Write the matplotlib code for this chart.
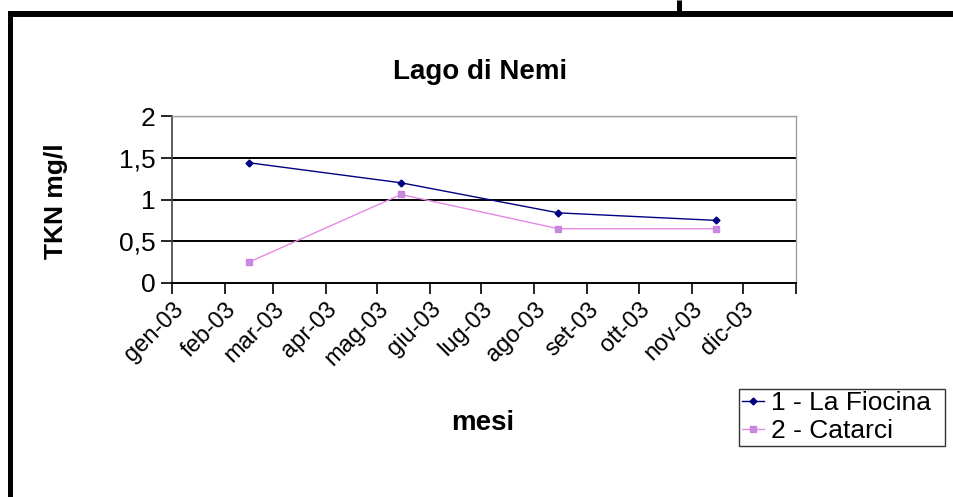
import matplotlib
matplotlib.use("Agg")
import matplotlib.pyplot as plt
import matplotlib.transforms as mtransforms
from matplotlib.lines import Line2D
from datetime import date

plt.rcParams['font.family'] = ['Liberation Sans', 'DejaVu Sans']

# ---- data ----
sample_dates = [date(2003, 2, 15), date(2003, 5, 15), date(2003, 8, 15), date(2003, 11, 15)]
fiocina = [1.44, 1.20, 0.84, 0.75]
catarci = [0.25, 1.06, 0.65, 0.65]
series_names = ["1 - La Fiocina", "2 - Catarci"]
month_ticks = [date(2003, m, 1) for m in range(1, 13)] + [date(2004, 1, 1)]
month_labels = ["gen-03", "feb-03", "mar-03", "apr-03", "mag-03", "giu-03",
                "lug-03", "ago-03", "set-03", "ott-03", "nov-03", "dic-03", ""]
y_ticks = [0, 0.5, 1, 1.5, 2]
y_labels = ["0", "0,5", "1", "1,5", "2"]

W, H = 954, 497
fig = plt.figure(figsize=(W / 100, H / 100), dpi=100)
fig.patch.set_facecolor("white")

def fx(px):
    return px / W

def fy(py):
    return 1 - py / H

# frame lines (figure level)
fig.add_artist(Line2D([fx(8), fx(954)], [fy(14), fy(14)], color="black", lw=4.3,
                      transform=fig.transFigure, solid_capstyle="butt"))
fig.add_artist(Line2D([fx(10.5), fx(10.5)], [fy(11), fy(497)], color="black", lw=3.6,
                      transform=fig.transFigure, solid_capstyle="butt"))
fig.add_artist(Line2D([fx(679.5), fx(679.5)], [fy(0), fy(14)], color="black", lw=3.6,
                      transform=fig.transFigure, solid_capstyle="butt"))

left, right, top, bottom = 172, 796, 116, 283
ax = fig.add_axes([fx(left), fy(bottom), fx(right - left), (bottom - top) / H])
ax.set_facecolor("white")

ax.plot(sample_dates, fiocina, color="#000080", lw=1.0, marker="D", ms=3.5,
        mfc="#000080", mec="#000080", label=series_names[0], zorder=4)
ax.plot(sample_dates, catarci, color="#e48ae4", lw=1.0, marker="s", ms=4,
        mfc="#c090e0", mec="#d080e0", label=series_names[1], zorder=4)

ax.set_xlim(date(2003, 1, 1), date(2004, 1, 1))
ax.set_ylim(0, 2)
ax.set_xticks(month_ticks)
ax.set_xticklabels(month_labels, rotation=45, ha="right", rotation_mode="anchor",
                   fontsize=17)
offset = mtransforms.ScaledTranslation(9 / 100, 0, fig.dpi_scale_trans)
for lbl in ax.get_xticklabels():
    lbl.set_transform(lbl.get_transform() + offset)
ax.set_yticks(y_ticks)
ax.set_yticklabels(y_labels, fontsize=19)

for v in [0.5, 1, 1.5]:
    ax.axhline(v, color="black", lw=1.4, zorder=1)
ax.axhline(2, color="#a0a0a0", lw=1.0, zorder=1)

for s in ["top", "right"]:
    ax.spines[s].set_color("#a0a0a0")
    ax.spines[s].set_linewidth(1.0)
ax.spines["left"].set_color("#404040")
ax.spines["left"].set_linewidth(1.2)
ax.spines["bottom"].set_color("black")
ax.spines["bottom"].set_linewidth(1.4)

ax.tick_params(axis="x", direction="out", length=8, width=1.2, pad=3, colors="black")
ax.tick_params(axis="y", direction="out", length=8, width=1.2, pad=4, colors="black")

fig.text(fx(480), fy(72), "Lago di Nemi", ha="center", va="center",
         fontsize=20, fontweight="bold")
fig.text(fx(56), fy(201), "TKN mg/l", ha="center", va="center", rotation=90,
         fontsize=19, fontweight="bold")
fig.text(fx(483), fy(423), "mesi", ha="center", va="center",
         fontsize=20, fontweight="bold")

leg = fig.legend(loc="lower left", bbox_to_anchor=(fx(739), fy(446), fx(945) - fx(739), fy(377) - fy(446)),
                 bbox_transform=fig.transFigure, mode="expand", borderaxespad=0,
                 fontsize=19, frameon=True, fancybox=False, handlelength=0.85,
                 handletextpad=0.25, labelspacing=0.15, borderpad=0.1)
leg.get_frame().set_edgecolor("black")
leg.get_frame().set_linewidth(1.0)

fig.savefig("out.png", dpi=100, facecolor="white")
